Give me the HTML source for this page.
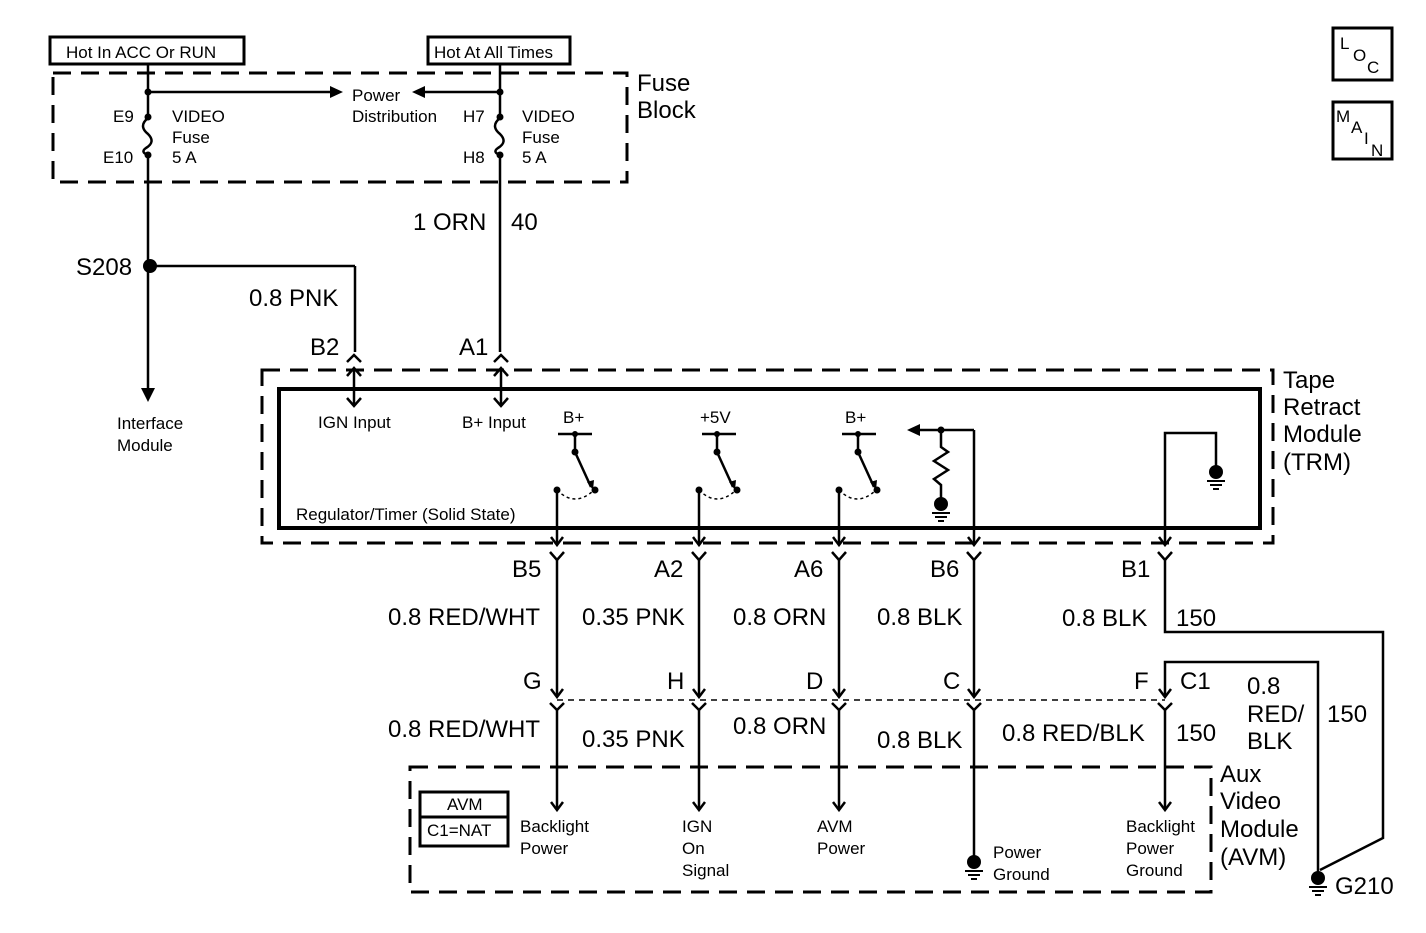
<!DOCTYPE html>
<html><head><meta charset="utf-8"><style>
html,body{margin:0;padding:0;background:#fff;}
svg{display:block;}
text{font-family:"Liberation Sans",Arial,sans-serif;fill:#000;}
.s{font-size:17px;}
.b{font-size:24px;}
</style></head><body>
<svg width="1426" height="933" viewBox="0 0 1426 933" xmlns="http://www.w3.org/2000/svg">
<g fill="none" stroke="#000" stroke-width="3">
<rect x="50" y="37" width="194" height="27"/>
<rect x="428" y="37" width="142" height="27"/>
<rect x="1333" y="28" width="59" height="52"/>
<rect x="1333" y="102" width="59" height="57"/>
<rect x="53" y="73" width="574" height="109" stroke-dasharray="18,10"/>
<rect x="262" y="370" width="1011" height="173" stroke-dasharray="18,10"/>
<rect x="279" y="389" width="981" height="139" stroke-width="4"/>
<rect x="410" y="767" width="801" height="125" stroke-dasharray="18,10"/>
<rect x="420" y="792" width="88" height="54"/>
<line x1="420" y1="817" x2="508" y2="817"/>
</g>
<g fill="none" stroke="#000" stroke-width="2.5">
<line x1="148" y1="64" x2="148" y2="115"/>
<path d="M148 118 q-10 8 0 16 q8 8 -2 14 q-6 4 2 7"/>
<line x1="148" y1="155" x2="148" y2="388"/>
<line x1="148" y1="92" x2="330" y2="92"/>
<line x1="500" y1="64" x2="500" y2="115"/>
<path d="M500 118 q-10 8 0 16 q8 8 -2 14 q-6 4 2 7"/>
<line x1="500" y1="155" x2="500" y2="352"/>
<line x1="500" y1="92" x2="425" y2="92"/>
<line x1="150" y1="266" x2="355" y2="266"/>
<line x1="355" y1="266" x2="355" y2="352"/>
<polyline points="347,362 354,355 361,362"/>
<polyline points="494,362 501,355 508,362"/>
<line x1="354" y1="368" x2="354" y2="406"/>
<polyline points="347,376 354,368 361,376"/>
<polyline points="347,398 354,406 361,398"/>
<line x1="501" y1="368" x2="501" y2="406"/>
<polyline points="494,376 501,368 508,376"/>
<polyline points="494,398 501,406 508,398"/>
<line x1="558" y1="434" x2="592" y2="434"/>
<line x1="575" y1="434" x2="575" y2="452"/>
<line x1="575" y1="452" x2="591" y2="487"/>
<line x1="557" y1="490" x2="557" y2="545"/>
<path d="M557 490 q18 18 37 0" stroke-dasharray="3,3" stroke-width="1.5"/>
<line x1="702" y1="434" x2="736" y2="434"/>
<line x1="717" y1="434" x2="717" y2="452"/>
<line x1="717" y1="452" x2="733" y2="487"/>
<line x1="699" y1="490" x2="699" y2="545"/>
<path d="M699 490 q18 18 37 0" stroke-dasharray="3,3" stroke-width="1.5"/>
<line x1="842" y1="434" x2="876" y2="434"/>
<line x1="858" y1="434" x2="858" y2="452"/>
<line x1="858" y1="452" x2="874" y2="487"/>
<line x1="839" y1="490" x2="839" y2="545"/>
<path d="M839 490 q18 18 37 0" stroke-dasharray="3,3" stroke-width="1.5"/>
<line x1="920" y1="430" x2="974" y2="430"/>
<line x1="974" y1="430" x2="974" y2="545"/>
<polyline points="941,430 941,447 948,452 934,461 948,470 934,479 941,485 941,500"/>
<polyline points="1165,545 1165,433 1216,433 1216,470"/>
<polyline points="551,537 557,545 563,537"/>
<polyline points="693,537 699,545 705,537"/>
<polyline points="833,537 839,545 845,537"/>
<polyline points="968,537 974,545 980,537"/>
<polyline points="1159,537 1165,545 1171,537"/>
<polyline points="550,552 557,560 564,552"/>
<polyline points="692,552 699,560 706,552"/>
<polyline points="832,552 839,560 846,552"/>
<polyline points="967,552 974,560 981,552"/>
<polyline points="1158,552 1165,560 1172,552"/>
<line x1="557" y1="560" x2="557" y2="697"/>
<line x1="699" y1="560" x2="699" y2="697"/>
<line x1="839" y1="560" x2="839" y2="697"/>
<line x1="974" y1="560" x2="974" y2="697"/>
<polyline points="1165,560 1165,632 1383,632 1383,838 1320,870"/>
<polyline points="1165,697 1165,662 1318,662 1318,875"/>
<polyline points="551,689 557,697 563,689"/>
<polyline points="693,689 699,697 705,689"/>
<polyline points="833,689 839,697 845,689"/>
<polyline points="968,689 974,697 980,689"/>
<polyline points="1159,689 1165,697 1171,689"/>
<line x1="557" y1="700" x2="1165" y2="700" stroke-dasharray="6,5" stroke-width="1.5"/>
<polyline points="550,703 557,710 564,703"/>
<polyline points="692,703 699,710 706,703"/>
<polyline points="832,703 839,710 846,703"/>
<polyline points="967,703 974,710 981,703"/>
<polyline points="1158,703 1165,710 1172,703"/>
<line x1="557" y1="710" x2="557" y2="810"/>
<line x1="699" y1="710" x2="699" y2="810"/>
<line x1="839" y1="710" x2="839" y2="810"/>
<line x1="974" y1="710" x2="974" y2="860"/>
<line x1="1165" y1="710" x2="1165" y2="810"/>
<polyline points="551,802 557,810 563,802"/>
<polyline points="693,802 699,810 705,802"/>
<polyline points="833,802 839,810 845,802"/>
<polyline points="1159,802 1165,810 1171,802"/>
</g>
<g fill="#000" stroke="none">
<polygon points="330,86 343,92 330,98"/>
<polygon points="425,86 412,92 425,98"/>
<polygon points="920,424 907,430 920,436"/>
<polygon points="141,388 155,388 148,402"/>
<polygon points="587,482 594,480 593,490"/>
<polygon points="729,482 736,480 735,490"/>
<polygon points="870,482 877,480 876,490"/>
<circle cx="148" cy="92" r="3.5"/><circle cx="500" cy="92" r="3.5"/>
<circle cx="148" cy="117" r="3.5"/><circle cx="148" cy="155" r="3.5"/>
<circle cx="500" cy="117" r="3.5"/><circle cx="500" cy="155" r="3.5"/>
<circle cx="150" cy="266" r="7"/>
<circle cx="575" cy="434" r="3"/><circle cx="717" cy="434" r="3"/><circle cx="858" cy="434" r="3"/>
<circle cx="575" cy="452" r="3.5"/><circle cx="717" cy="452" r="3.5"/><circle cx="858" cy="452" r="3.5"/>
<circle cx="557" cy="490" r="3.5"/><circle cx="595" cy="490" r="3.5"/>
<circle cx="699" cy="490" r="3.5"/><circle cx="737" cy="490" r="3.5"/>
<circle cx="839" cy="490" r="3.5"/><circle cx="877" cy="490" r="3.5"/>
<circle cx="941" cy="430" r="3.5"/>
<circle cx="941" cy="504" r="7"/><rect x="932" y="512" width="18" height="2"/><rect x="935" y="516" width="12" height="2"/><rect x="938" y="520" width="6" height="2"/>
<circle cx="1216" cy="472" r="7"/><rect x="1207" y="480" width="18" height="2"/><rect x="1210" y="484" width="12" height="2"/><rect x="1213" y="488" width="6" height="2"/>
<circle cx="974" cy="862" r="7"/><rect x="965" y="870" width="18" height="2"/><rect x="968" y="874" width="12" height="2"/><rect x="971" y="878" width="6" height="2"/>
<circle cx="1318" cy="878" r="7"/><rect x="1309" y="886" width="18" height="2"/><rect x="1312" y="890" width="12" height="2"/><rect x="1315" y="894" width="6" height="2"/>
</g>
<text class="s" x="66" y="58">Hot In ACC Or RUN</text>
<text class="s" x="434" y="58">Hot At All Times</text>
<text class="s" x="352" y="101">Power</text>
<text class="s" x="352" y="122">Distribution</text>
<text class="s" x="113" y="122">E9</text>
<text class="s" x="103" y="163">E10</text>
<text class="s" x="172" y="122">VIDEO</text>
<text class="s" x="172" y="143">Fuse</text>
<text class="s" x="172" y="163">5 A</text>
<text class="s" x="463" y="122">H7</text>
<text class="s" x="463" y="163">H8</text>
<text class="s" x="522" y="122">VIDEO</text>
<text class="s" x="522" y="143">Fuse</text>
<text class="s" x="522" y="163">5 A</text>
<text class="b" x="637" y="91">Fuse</text>
<text class="b" x="637" y="118">Block</text>
<text class="b" x="413" y="230">1 ORN</text>
<text class="b" x="511" y="230">40</text>
<text class="b" x="76" y="275">S208</text>
<text class="b" x="249" y="306">0.8 PNK</text>
<text class="b" x="310" y="355">B2</text>
<text class="b" x="459" y="355">A1</text>
<text class="s" x="117" y="429">Interface</text>
<text class="s" x="117" y="451">Module</text>
<text class="s" x="318" y="428">IGN Input</text>
<text class="s" x="462" y="428">B+ Input</text>
<text class="s" x="296" y="520">Regulator/Timer   (Solid State)</text>
<text class="s" x="563" y="423">B+</text>
<text class="s" x="700" y="423">+5V</text>
<text class="s" x="845" y="423">B+</text>
<text class="b" x="1283" y="388">Tape</text>
<text class="b" x="1283" y="415">Retract</text>
<text class="b" x="1283" y="442">Module</text>
<text class="b" x="1283" y="470">(TRM)</text>
<text class="b" x="512" y="577">B5</text>
<text class="b" x="654" y="577">A2</text>
<text class="b" x="794" y="577">A6</text>
<text class="b" x="930" y="577">B6</text>
<text class="b" x="1121" y="577">B1</text>
<text class="b" x="388" y="625">0.8 RED/WHT</text>
<text class="b" x="582" y="625">0.35 PNK</text>
<text class="b" x="733" y="625">0.8 ORN</text>
<text class="b" x="877" y="625">0.8 BLK</text>
<text class="b" x="1062" y="626">0.8 BLK</text>
<text class="b" x="1176" y="626">150</text>
<text class="b" x="523" y="689">G</text>
<text class="b" x="667" y="689">H</text>
<text class="b" x="806" y="689">D</text>
<text class="b" x="943" y="689">C</text>
<text class="b" x="1134" y="689">F</text>
<text class="b" x="1180" y="689">C1</text>
<text class="b" x="1247" y="694">0.8</text>
<text class="b" x="1247" y="722">RED/</text>
<text class="b" x="1247" y="749">BLK</text>
<text class="b" x="1327" y="722">150</text>
<text class="b" x="388" y="737">0.8 RED/WHT</text>
<text class="b" x="582" y="747">0.35 PNK</text>
<text class="b" x="733" y="734">0.8 ORN</text>
<text class="b" x="877" y="748">0.8 BLK</text>
<text class="b" x="1002" y="741">0.8 RED/BLK</text>
<text class="b" x="1176" y="741">150</text>
<text class="b" x="1220" y="782">Aux</text>
<text class="b" x="1220" y="809">Video</text>
<text class="b" x="1220" y="837">Module</text>
<text class="b" x="1220" y="865">(AVM)</text>
<text class="s" x="447" y="810">AVM</text>
<text class="s" x="427" y="836">C1=NAT</text>
<text class="s" x="520" y="832">Backlight</text>
<text class="s" x="520" y="854">Power</text>
<text class="s" x="682" y="832">IGN</text>
<text class="s" x="682" y="854">On</text>
<text class="s" x="682" y="876">Signal</text>
<text class="s" x="817" y="832">AVM</text>
<text class="s" x="817" y="854">Power</text>
<text class="s" x="993" y="858">Power</text>
<text class="s" x="993" y="880">Ground</text>
<text class="s" x="1126" y="832">Backlight</text>
<text class="s" x="1126" y="854">Power</text>
<text class="s" x="1126" y="876">Ground</text>
<text class="b" x="1335" y="894">G210</text>
<text class="s" x="1340" y="49">L</text>
<text class="s" x="1353" y="61">O</text>
<text class="s" x="1367" y="73">C</text>
<text class="s" x="1336" y="122">M</text>
<text class="s" x="1351" y="133">A</text>
<text class="s" x="1364" y="144">I</text>
<text class="s" x="1371" y="156">N</text>
</svg>
</body></html>
